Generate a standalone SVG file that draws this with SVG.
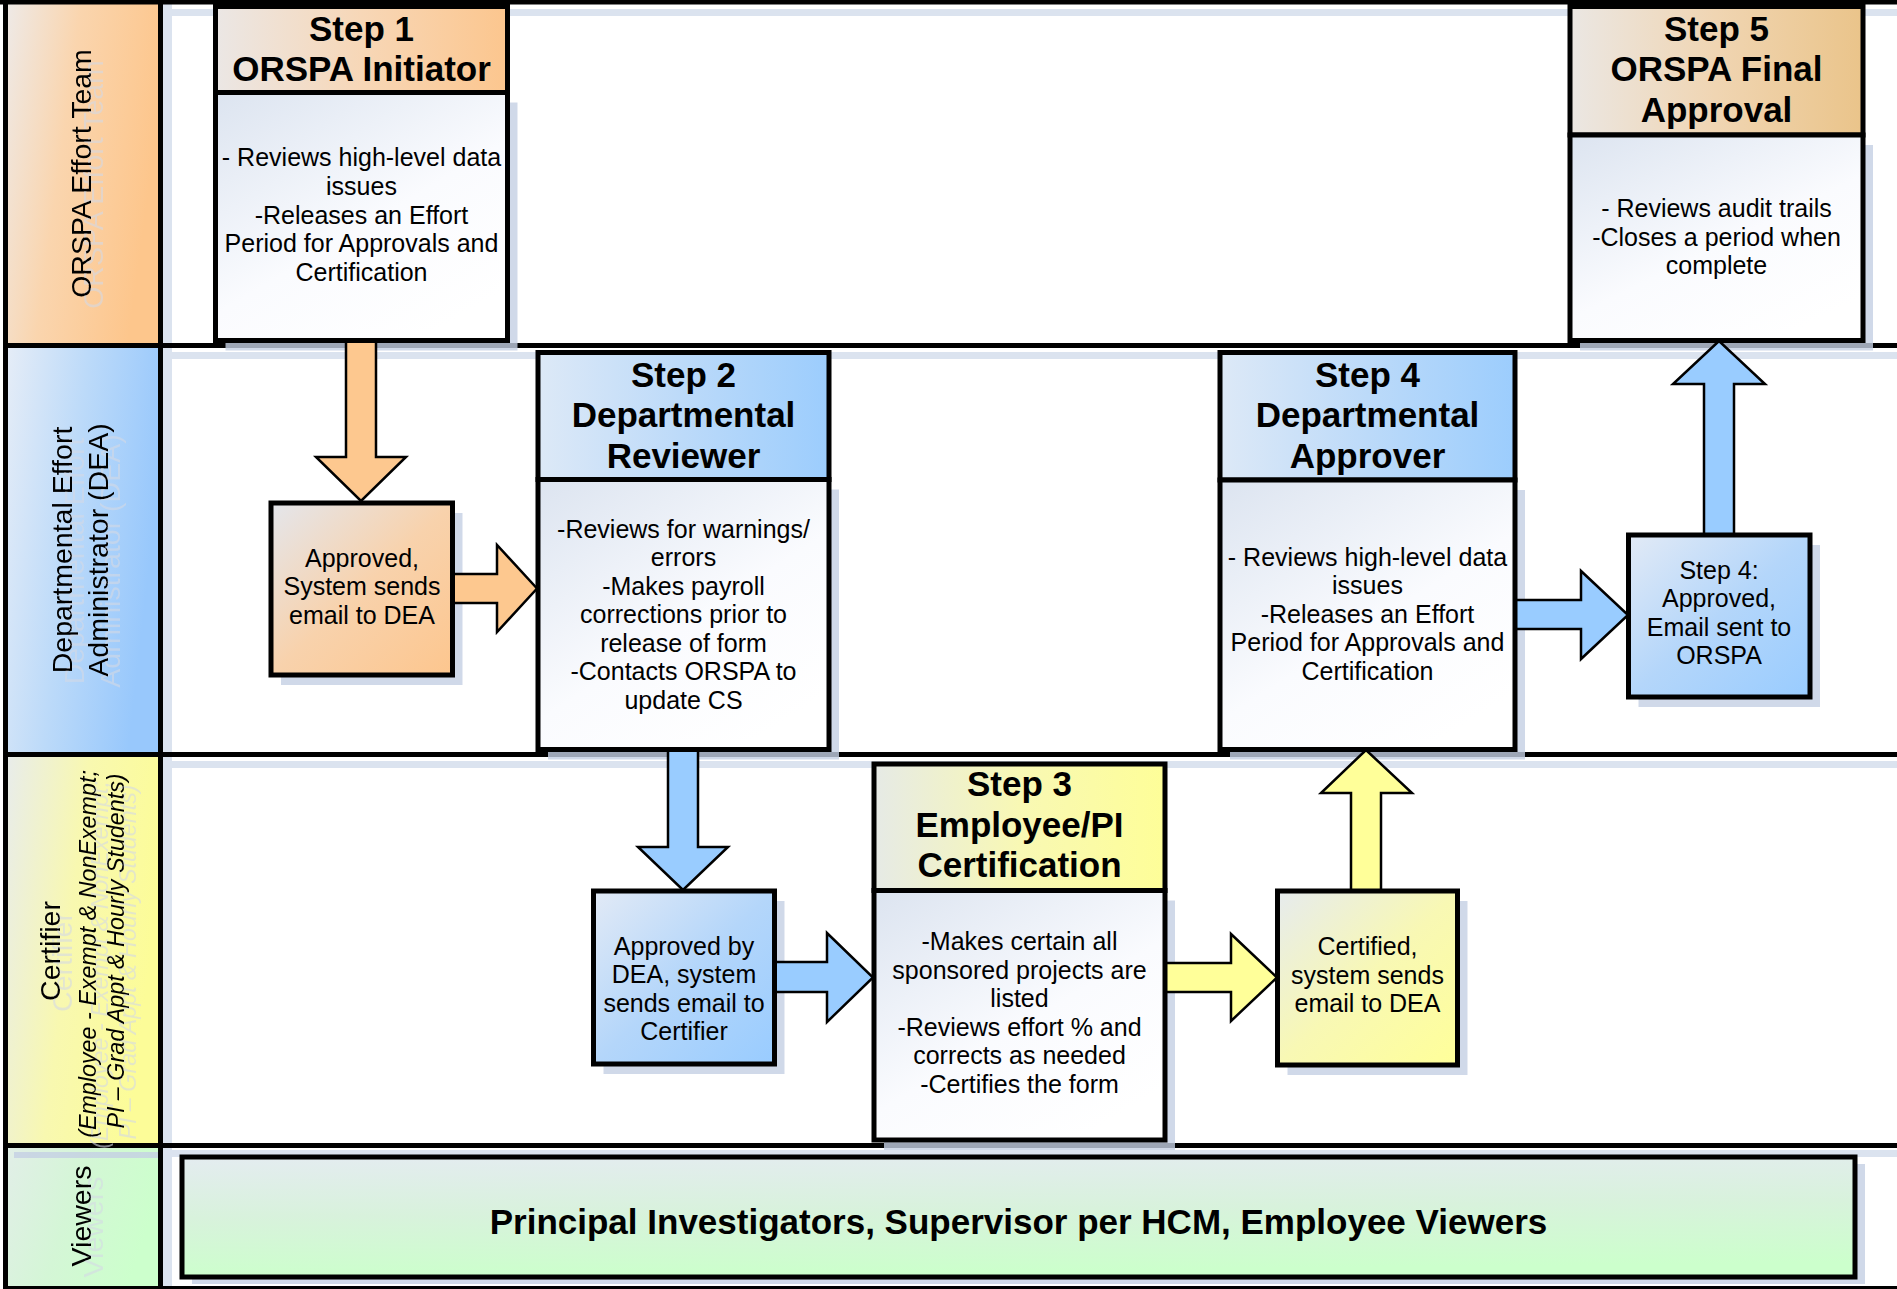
<svg xmlns="http://www.w3.org/2000/svg" width="1897" height="1289" viewBox="0 0 1897 1289">
<defs>
<style>
.ln{stroke:#000;stroke-width:5;fill:none}
.bx{stroke:#000;stroke-width:5}
.sh{fill:#c4d0e3;opacity:.8}
.band{fill:#dbe3ef}
.t{font-family:'Liberation Sans',Arial,sans-serif;font-weight:bold;font-size:35px;text-anchor:middle;fill:#000}
.b{font-family:'Liberation Sans',Arial,sans-serif;font-size:25px;text-anchor:middle;fill:#000}
.ll{font-family:'Liberation Sans',Arial,sans-serif;font-size:28.5px;text-anchor:middle;fill:#000}
.it{font-style:italic;font-size:23.3px}
.ar{stroke:#000;stroke-width:2.5;stroke-linejoin:miter}
.ao{fill:#fdc88f}.ab{fill:#99ccff}.ay{fill:#ffff99}
</style>
<linearGradient id="laneO" x1="0" y1="0" x2="1" y2="0.3"><stop offset="0" stop-color="#eeeae8"/><stop offset="0.45" stop-color="#fad5ae"/><stop offset="1" stop-color="#fdc68c"/></linearGradient>
<linearGradient id="laneB" x1="0" y1="0" x2="1" y2="0.3"><stop offset="0" stop-color="#e6edf7"/><stop offset="0.5" stop-color="#bcdaf9"/><stop offset="1" stop-color="#98c8fc"/></linearGradient>
<linearGradient id="laneY" x1="0" y1="0" x2="1" y2="0.3"><stop offset="0" stop-color="#e8ecec"/><stop offset="0.5" stop-color="#f8f8b0"/><stop offset="1" stop-color="#fcfc98"/></linearGradient>
<linearGradient id="laneG" x1="0" y1="0" x2="1" y2="0.3"><stop offset="0" stop-color="#e2eee8"/><stop offset="0.5" stop-color="#d4f6d6"/><stop offset="1" stop-color="#ccffcc"/></linearGradient>
<linearGradient id="hO" x1="0" y1="0" x2="1" y2="0"><stop offset="0" stop-color="#ebe7e5"/><stop offset="0.5" stop-color="#f7d7b7"/><stop offset="1" stop-color="#fcc68e"/></linearGradient>
<linearGradient id="hT" x1="0" y1="0" x2="1" y2="0"><stop offset="0" stop-color="#ebe7e3"/><stop offset="0.5" stop-color="#f0d5b2"/><stop offset="1" stop-color="#eac48a"/></linearGradient>
<linearGradient id="hB" x1="0" y1="0" x2="1" y2="0"><stop offset="0" stop-color="#dde9f7"/><stop offset="0.5" stop-color="#bcdaf9"/><stop offset="1" stop-color="#9ccdfd"/></linearGradient>
<linearGradient id="hY" x1="0" y1="0" x2="1" y2="0"><stop offset="0" stop-color="#e6eae6"/><stop offset="0.5" stop-color="#f8f8b4"/><stop offset="1" stop-color="#fefe98"/></linearGradient>
<linearGradient id="body" x1="0" y1="0" x2="0.7" y2="1"><stop offset="0" stop-color="#dce4f0"/><stop offset="0.6" stop-color="#fafbfe"/><stop offset="1" stop-color="#ffffff"/></linearGradient>
<linearGradient id="sO" x1="0" y1="0" x2="1" y2="1"><stop offset="0" stop-color="#e4e6ec"/><stop offset="0.5" stop-color="#f8d2ac"/><stop offset="1" stop-color="#fdc68e"/></linearGradient>
<linearGradient id="sB" x1="0" y1="0" x2="1" y2="1"><stop offset="0" stop-color="#e2eaf6"/><stop offset="0.5" stop-color="#b4d6fa"/><stop offset="1" stop-color="#99ccff"/></linearGradient>
<linearGradient id="sY" x1="0" y1="0" x2="1" y2="1"><stop offset="0" stop-color="#e6ebee"/><stop offset="0.5" stop-color="#f8f8b4"/><stop offset="1" stop-color="#ffff99"/></linearGradient>
<linearGradient id="sG" x1="0" y1="0" x2="0.15" y2="1"><stop offset="0" stop-color="#e4ecf0"/><stop offset="0.5" stop-color="#d8f2dc"/><stop offset="1" stop-color="#ccffcc"/></linearGradient>
<filter id="ghost" filterUnits="userSpaceOnUse" x="0" y="0" width="175" height="1289">
<feOffset in="SourceGraphic" dx="12" dy="11" result="o"/>
<feColorMatrix in="o" type="matrix" values="0 0 0 0 0.66  0 0 0 0 0.69  0 0 0 0 0.78  0 0 0 0.6 0" result="c"/>
<feMerge><feMergeNode in="c"/><feMergeNode in="SourceGraphic"/></feMerge>
</filter>
</defs>
<rect x="0" y="0" width="1897" height="1289" fill="#fff"/>
<g id="lanes">
<rect x="5.5" y="2" width="155" height="343.5" fill="url(#laneO)"/>
<rect x="5.5" y="345.5" width="155" height="409" fill="url(#laneB)"/>
<rect x="5.5" y="754.5" width="155" height="391" fill="url(#laneY)"/>
<rect x="5.5" y="1145.5" width="155" height="141.5" fill="url(#laneG)"/>
<rect x="14" y="1152" width="150" height="6" fill="#c4d0e3" opacity="0.8"/>
<rect class="band" x="163" y="9" width="1734" height="7"/>
<rect class="band" x="163" y="352" width="1734" height="7"/>
<rect class="band" x="163" y="761" width="1734" height="7"/>
<rect class="band" x="163" y="1150" width="1734" height="7"/>
<rect class="band" x="163" y="4" width="9" height="1283"/>
<line class="ln" x1="0" y1="2" x2="1897" y2="2"/>
<line class="ln" x1="3" y1="345.5" x2="1897" y2="345.5"/>
<line class="ln" x1="3" y1="754.5" x2="1897" y2="754.5"/>
<line class="ln" x1="3" y1="1145.5" x2="1897" y2="1145.5"/>
<line x1="3" y1="1287.5" x2="1897" y2="1287.5" stroke="#000" stroke-width="3"/>
<line class="ln" x1="5.5" y1="0" x2="5.5" y2="1289"/>
<line class="ln" x1="160.5" y1="0" x2="160.5" y2="1289"/>
</g>
<g id="lane-labels" filter="url(#ghost)">
<text id="lane-orspa" class="ll" transform="translate(0 173.5) rotate(-90)"><tspan x="0" y="91">ORSPA Effort Team</tspan></text>
<text id="lane-dea" class="ll" transform="translate(0 550) rotate(-90)"><tspan x="0" y="72">Departmental Effort</tspan><tspan x="0" y="107.5">Administrator (DEA)</tspan></text>
<text id="lane-certifier" class="ll" transform="translate(0 951) rotate(-90)"><tspan x="0" y="60">Certifier</tspan><tspan class="it" x="-3" y="96">(Employee - Exempt &amp; NonExempt;</tspan><tspan class="it" x="0" y="124">PI – Grad Appt &amp; Hourly Students)</tspan></text>
<text id="lane-viewers" class="ll" transform="translate(0 1216) rotate(-90)"><tspan x="0" y="91">Viewers</tspan></text>
</g>
<g id="shadows">
<rect class="sh" x="225.5" y="102.5" width="292" height="248"/>
<rect class="sh" x="1580" y="145" width="293" height="205.5"/>
<rect class="sh" x="548" y="489.5" width="291" height="270"/>
<rect class="sh" x="1230" y="490" width="295" height="269.5"/>
<rect class="sh" x="884" y="900.5" width="291" height="249.5"/>
<rect class="sh" x="281" y="513" width="181.5" height="172"/>
<rect class="sh" x="603.5" y="901" width="181" height="173"/>
<rect class="sh" x="1287.5" y="901" width="180" height="174"/>
<rect class="sh" x="1638.5" y="545" width="181.5" height="162"/>
<rect class="sh" x="192" y="1164" width="1673" height="120"/>
</g>
<g id="connectors">
<polygon class="ar ao" points="346,340 376,340 376,457 406,457 361,501 316,457 346,457"/>
<polygon class="ar ao" points="452,574 497,574 497,545 537,588.5 497,632 497,603 452,603"/>
<polygon class="ar ab" points="668,749 698,749 698,847 728,847 683,890 638,847 668,847"/>
<polygon class="ar ab" points="774,962 827,962 827,933 873,977.5 827,1022 827,992 774,992"/>
<polygon class="ar ay" points="1165,963 1231,963 1231,934 1277,977.5 1231,1021 1231,992 1165,992"/>
<polygon class="ar ay" points="1351,891 1351,793 1321,793 1366,750 1412,793 1381,793 1381,891"/>
<polygon class="ar ab" points="1515,600 1581,600 1581,571 1628,615 1581,659 1581,629 1515,629"/>
<polygon class="ar ab" points="1704,535 1704,384 1673,384 1719,341 1765,384 1734,384 1734,535"/>
</g>
<g id="step1">
<rect class="bx" x="215.5" y="6.5" width="292" height="86" fill="url(#hO)"/>
<rect class="bx" x="215.5" y="92.5" width="292" height="248" fill="url(#body)"/>
<text class="t"><tspan x="361.5" y="40.5">Step 1</tspan><tspan x="361.5" y="81">ORSPA Initiator</tspan></text>
<text class="b"><tspan x="361.5" y="166">- Reviews high-level data</tspan><tspan x="361.5" y="194.8">issues</tspan><tspan x="361.5" y="223.6">-Releases an Effort</tspan><tspan x="361.5" y="252.4">Period for Approvals and</tspan><tspan x="361.5" y="281.2">Certification</tspan></text>
</g>
<g id="step5">
<rect class="bx" x="1570" y="6.5" width="293" height="128.5" fill="url(#hT)"/>
<rect class="bx" x="1570" y="135" width="293" height="205.5" fill="url(#body)"/>
<text class="t"><tspan x="1716.5" y="40.5">Step 5</tspan><tspan x="1716.5" y="81">ORSPA Final</tspan><tspan x="1716.5" y="121.5">Approval</tspan></text>
<text class="b"><tspan x="1716.5" y="217">- Reviews audit trails</tspan><tspan x="1716.5" y="245.5">-Closes a period when</tspan><tspan x="1716.5" y="274">complete</tspan></text>
</g>
<g id="step2">
<rect class="bx" x="538" y="352.5" width="291" height="127" fill="url(#hB)"/>
<rect class="bx" x="538" y="479.5" width="291" height="270" fill="url(#body)"/>
<text class="t"><tspan x="683.5" y="386.5">Step 2</tspan><tspan x="683.5" y="427">Departmental</tspan><tspan x="683.5" y="467.5">Reviewer</tspan></text>
<text class="b"><tspan x="683.5" y="537.5">-Reviews for warnings/</tspan><tspan x="683.5" y="566">errors</tspan><tspan x="683.5" y="594.5">-Makes payroll</tspan><tspan x="683.5" y="623">corrections prior to</tspan><tspan x="683.5" y="651.5">release of form</tspan><tspan x="683.5" y="680">-Contacts ORSPA to</tspan><tspan x="683.5" y="708.5">update CS</tspan></text>
</g>
<g id="step4">
<rect class="bx" x="1220" y="352.5" width="295" height="127.5" fill="url(#hB)"/>
<rect class="bx" x="1220" y="480" width="295" height="269.5" fill="url(#body)"/>
<text class="t"><tspan x="1367.5" y="386.5">Step 4</tspan><tspan x="1367.5" y="427">Departmental</tspan><tspan x="1367.5" y="467.5">Approver</tspan></text>
<text class="b"><tspan x="1367.5" y="566">- Reviews high-level data</tspan><tspan x="1367.5" y="594.4">issues</tspan><tspan x="1367.5" y="622.8">-Releases an Effort</tspan><tspan x="1367.5" y="651.2">Period for Approvals and</tspan><tspan x="1367.5" y="679.6">Certification</tspan></text>
</g>
<g id="step3">
<rect class="bx" x="874" y="764" width="291" height="126.5" fill="url(#hY)"/>
<rect class="bx" x="874" y="890.5" width="291" height="249.5" fill="url(#body)"/>
<text class="t"><tspan x="1019.5" y="796">Step 3</tspan><tspan x="1019.5" y="836.5">Employee/PI</tspan><tspan x="1019.5" y="877">Certification</tspan></text>
<text class="b"><tspan x="1019.5" y="950">-Makes certain all</tspan><tspan x="1019.5" y="978.5">sponsored projects are</tspan><tspan x="1019.5" y="1007">listed</tspan><tspan x="1019.5" y="1035.5">-Reviews effort % and</tspan><tspan x="1019.5" y="1064">corrects as needed</tspan><tspan x="1019.5" y="1092.5">-Certifies the form</tspan></text>
</g>
<g id="approved-dea">
<rect class="bx" x="271" y="503" width="181.5" height="172" fill="url(#sO)"/>
<text class="b"><tspan x="362" y="566.5">Approved,</tspan><tspan x="362" y="595">System sends</tspan><tspan x="362" y="623.5">email to DEA</tspan></text>
</g>
<g id="approved-certifier">
<rect class="bx" x="593.5" y="891" width="181" height="173" fill="url(#sB)"/>
<text class="b"><tspan x="684" y="955">Approved by</tspan><tspan x="684" y="983.4">DEA, system</tspan><tspan x="684" y="1011.8">sends email to</tspan><tspan x="684" y="1040.2">Certifier</tspan></text>
</g>
<g id="certified">
<rect class="bx" x="1277.5" y="891" width="180" height="174" fill="url(#sY)"/>
<text class="b"><tspan x="1367.5" y="955">Certified,</tspan><tspan x="1367.5" y="983.5">system sends</tspan><tspan x="1367.5" y="1012">email to DEA</tspan></text>
</g>
<g id="step4-approved">
<rect class="bx" x="1628.5" y="535" width="181.5" height="162" fill="url(#sB)"/>
<text class="b"><tspan x="1719" y="579">Step 4:</tspan><tspan x="1719" y="607.3">Approved,</tspan><tspan x="1719" y="635.6">Email sent to</tspan><tspan x="1719" y="664">ORSPA</tspan></text>
</g>
<g id="viewers">
<rect class="bx" x="182" y="1157" width="1673" height="120" fill="url(#sG)"/>
<text class="t" x="1018.5" y="1234">Principal Investigators, Supervisor per HCM, Employee Viewers</text>
</g>
</svg>
